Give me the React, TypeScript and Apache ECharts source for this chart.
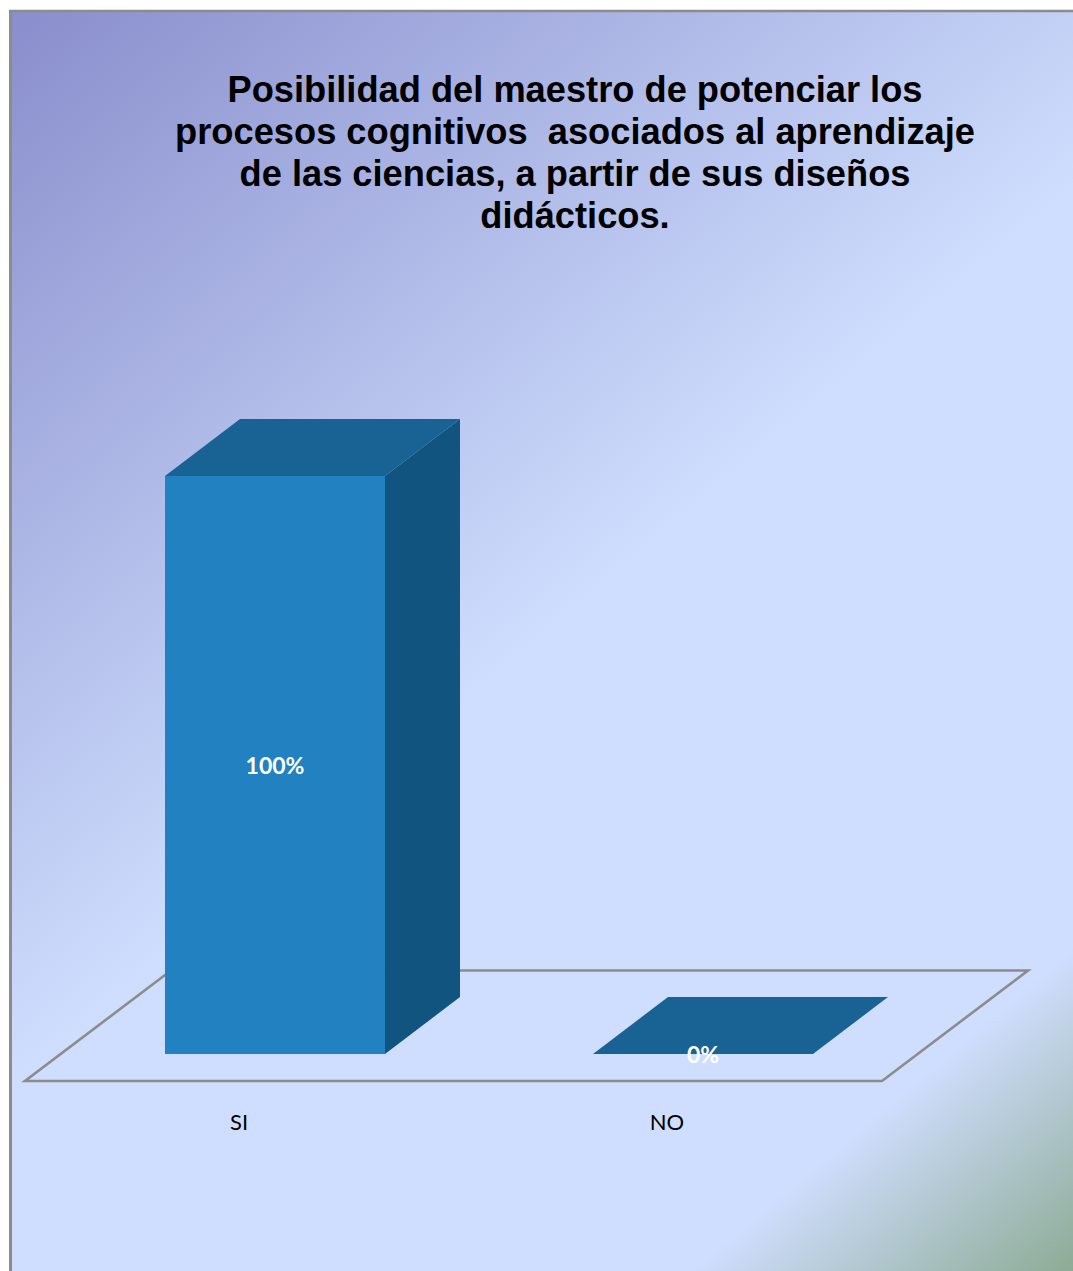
import React, { useEffect, useRef } from "react";
import * as echarts from "echarts";

const titleLines = [
  "Posibilidad del maestro de potenciar los",
  "procesos cognitivos  asociados al aprendizaje",
  "de las ciencias, a partir de sus diseños",
  "didácticos.",
];
const categories = ["SI", "NO"];
const percentValues = [100, 0];
const percentLabels = ["100%", "0%"];

const DEPTH_X = 75;
const DEPTH_Y = 57;
const BAR_RATIO = 0.514;

// Extruded column: back faces first, front face on top, value label centred.
function renderColumn(_params: any, api: any) {
  const idx = api.value(0);
  const val = api.value(1);
  const base = api.coord([idx, 0]);
  const top = api.coord([idx, val]);
  const w = api.size([1, 0])[0] * BAR_RATIO;
  const x0 = base[0] - w / 2;
  const x1 = base[0] + w / 2;
  const yB = base[1];
  const yT = top[1];
  return {
    type: "group",
    children: [
      {
        type: "polygon",
        shape: { points: [[x1, yT], [x1 + DEPTH_X, yT - DEPTH_Y], [x1 + DEPTH_X, yB - DEPTH_Y], [x1, yB]] },
        style: { fill: "#125480" },
      },
      {
        type: "polygon",
        shape: { points: [[x0, yT], [x0 + DEPTH_X, yT - DEPTH_Y], [x1 + DEPTH_X, yT - DEPTH_Y], [x1, yT]] },
        style: { fill: "#196294" },
      },
      {
        type: "rect",
        shape: { x: x0, y: yT, width: w, height: yB - yT },
        style: { fill: "#2181c1" },
      },
      {
        type: "text",
        style: {
          x: base[0],
          y: (yT + yB) / 2,
          text: percentLabels[idx],
          fill: "#ffffff",
          font: "bold 23px Lato",
          align: "center",
          verticalAlign: "middle",
        },
      },
    ],
  };
}

// Floor plane under the columns, spanning the whole plot width.
function renderFloor(params: any) {
  const { x, y, width, height } = params.coordSys;
  const fx = x - 36;
  const fy = y + height + 27;
  const fw = width + 1;
  const bx = 146;
  const by = 110.5;
  return {
    type: "polygon",
    shape: { points: [[fx, fy], [fx + fw, fy], [fx + fw + bx, fy - by], [fx + bx, fy - by]] },
    style: { fill: "transparent", stroke: "#8c8c8c", lineWidth: 2.6, lineJoin: "miter" },
  };
}

export default function App() {
  const ref = useRef<HTMLDivElement>(null);

  useEffect(() => {
    document.body.style.margin = "0";
    const chart = echarts.init(ref.current!, undefined, { renderer: "svg" });
    chart.setOption({
      animation: false,
      backgroundColor: "#ffffff",
      title: {
        text: titleLines.join("\n"),
        left: 570,
        top: 63,
        textAlign: "center",
        textStyle: {
          fontFamily: "Liberation Sans",
          fontWeight: "bold",
          fontSize: 36.25,
          lineHeight: 42,
          color: "#000000",
        },
      },
      graphic: [
        {
          type: "rect",
          z: -2,
          shape: { x: 10, y: 11, width: 1063, height: 1260 },
          style: {
            fill: {
              type: "linear",
              global: true,
              x: 10,
              y: 11,
              x2: 1073,
              y2: 1271,
              colorStops: [
                { offset: 0, color: "#898ecc" },
                { offset: 0.5, color: "#cfdefe" },
                { offset: 0.85, color: "#cfdefe" },
                { offset: 1, color: "#8dab95" },
              ],
            },
          },
        },
        {
          type: "line",
          z: -1,
          shape: { x1: 9, y1: 11, x2: 1073, y2: 11 },
          style: { stroke: "#8c8c8c", lineWidth: 2.4 },
        },
        {
          type: "line",
          z: -1,
          shape: { x1: 10.5, y1: 10, x2: 10.5, y2: 1271 },
          style: { stroke: "#8c8c8c", lineWidth: 3 },
        },
      ],
      grid: { left: 61, top: 476, width: 856, height: 578 },
      xAxis: {
        type: "category",
        data: categories,
        axisLine: { show: false },
        axisTick: { show: false },
        axisLabel: {
          margin: 56,
          fontFamily: "Lato",
          fontSize: 22,
          color: "#000000",
          padding: [0, 72, 0, 0],
        },
      },
      yAxis: { type: "value", min: 0, max: 100, show: false },
      series: [
        {
          type: "custom",
          renderItem: renderFloor,
          data: [[0, 0]],
          encode: { x: 0, y: 1 },
          clip: false,
          silent: true,
          z: 1,
        },
        {
          type: "custom",
          renderItem: renderColumn,
          data: percentValues.map((v, i) => [i, v]),
          encode: { x: 0, y: 1 },
          clip: false,
          silent: true,
          z: 2,
        },
      ],
    });
    return () => chart.dispose();
  }, []);

  return <div ref={ref} style={{ width: 1073, height: 1271 }} />;
}
